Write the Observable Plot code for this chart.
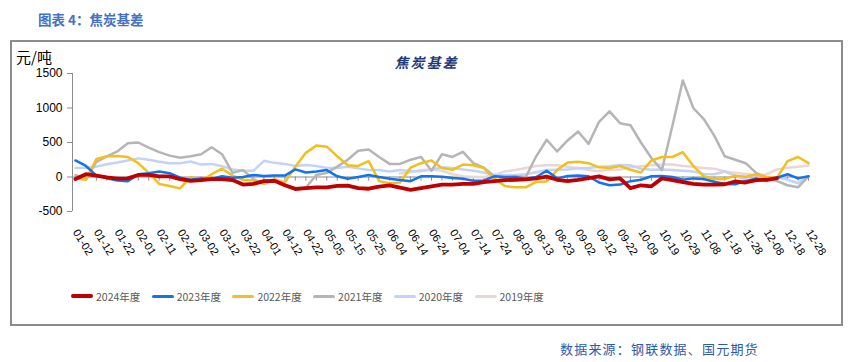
<!DOCTYPE html>
<html><head><meta charset="utf-8">
<script src="https://cdn.jsdelivr.net/npm/d3@7"></script>
<script src="https://cdn.jsdelivr.net/npm/@observablehq/plot@0.6"></script>
<style>
body{margin:0;background:#fff;width:853px;height:362px;position:relative;overflow:hidden;font-family:"Liberation Sans",Arial,sans-serif}
#hdr{position:absolute;left:38px;top:9px;font-weight:bold;font-size:13.5px;font-family:"Noto Sans CJK SC",sans-serif;color:#4472c4;white-space:nowrap}
#frame{position:absolute;left:10px;top:40px;width:829px;height:282px;border:2px solid #8c8c8c}
#unit{position:absolute;left:16px;top:46px;font-size:15px;font-family:"Noto Sans CJK SC",sans-serif;color:#000}
#title{position:absolute;left:0;width:853px;text-align:center;top:52px;font-weight:bold;font-style:italic;font-size:14px;letter-spacing:2px;font-family:"Noto Sans CJK SC",sans-serif;color:#1f3a7a}
#chart{position:absolute;left:0;top:0}
#legend{position:absolute;left:0;top:288px;width:853px;height:16px}
.item{position:absolute;top:0;height:16px;display:flex;align-items:center;font-size:10.5px;font-family:"Noto Sans CJK SC",sans-serif;color:#595959;white-space:nowrap}
.sw{width:22px;margin-right:3px;border-radius:2px}
#src{position:absolute;left:560px;top:339px;font-size:13px;letter-spacing:1.2px;font-family:"Noto Sans CJK SC",sans-serif;color:#2e5aa8;white-space:nowrap}
</style></head>
<body>
<div id="hdr">图表 4：焦炭基差</div>
<div id="frame"></div>
<div id="unit">元/吨</div>
<div id="chart"></div>
<div id="title">焦炭基差</div>
<div id="legend"></div>
<div id="src">数据来源：钢联数据、国元期货</div>
<script>
// x tick labels (one every 10 grid steps)
const xLabels = ["01-02","01-12","01-22","02-01","02-11","02-21","03-02","03-12","03-22","04-01","04-12","04-22","05-05","05-15","05-25","06-04","06-14","06-24","07-04","07-14","07-24","08-03","08-13","08-23","09-02","09-12","09-22","10-09","10-19","10-29","11-08","11-18","11-28","12-08","12-18","12-28"];
const yTicks = [-500, 0, 500, 1000, 1500];
const seriesNames = ["2024年度","2023年度","2022年度","2021年度","2020年度","2019年度"];
const seriesColors = ["#c00000","#1273ef","#f2c01e","#b5b5b5","#c3d2f5","#ead6d6"];
// values sampled every 5 grid steps (half a label interval)
const v2024 = [-30,40,20,-5,-25,-20,30,30,10,10,
  -30,-55,-45,-30,-30,-45,-110,-100,-60,-55,
  -120,-175,-160,-150,-150,-130,-125,-160,-170,-140,
  -120,-155,-185,-160,-135,-110,-110,-100,-100,-75,
  -60,-45,-40,-35,-20,5,-40,-60,-40,-15,
  10,-35,-20,-160,-120,-135,-20,-45,-75,-100,
  -110,-110,-105,-65,-80,-45,-40,-15,null,null,null];
const v2023 = [240,160,20,-20,-50,-60,40,55,80,55,
  -10,-40,-20,-30,10,-10,0,30,15,20,
  20,110,65,80,100,10,-25,0,30,0,
  -25,-45,-60,10,10,5,-15,-25,-55,-50,
  10,0,0,-25,0,90,-20,15,20,10,
  -80,-120,-110,-60,-40,10,15,0,-40,-20,
  -30,-70,-100,-105,-60,-25,-50,-10,40,-20,10];
const v2022 = [-20,-40,260,300,305,290,200,60,-100,-130,
  -165,0,-60,40,120,20,-40,-50,-100,-30,
  -80,150,350,455,440,300,170,160,230,-60,
  -90,-80,135,200,240,130,105,180,170,130,
  -20,-130,-150,-150,-70,-65,100,210,220,200,
  140,130,160,105,65,240,290,290,360,160,
  10,-30,-30,20,5,40,0,-10,230,290,200];
const v2021 = [30,-40,220,300,370,490,500,425,360,310,
  280,300,330,430,330,60,100,-30,-100,-40,
  -110,-155,-155,30,60,150,250,380,400,290,
  190,190,250,290,90,330,290,365,200,135,
  15,-15,10,0,300,540,370,530,660,480,
  800,950,780,750,500,275,100,740,1400,1000,
  840,600,300,250,200,60,-20,-60,-120,-150,10];
const v2020 = [130,135,150,185,210,240,270,250,220,200,
  200,225,180,190,155,110,90,90,235,205,
  190,160,175,160,130,130,150,125,100,100,
  80,100,85,85,105,140,130,110,90,65,
  30,25,30,40,70,100,105,110,125,130,
  150,155,175,170,120,105,110,100,90,80,
  45,40,80,20,-40,-30,-30,0,-40,-90,10];
const v2019 = [null,null,null,null,null,null,null,null,null,null,
  null,null,null,null,null,null,null,null,null,null,
  null,null,null,null,null,null,null,null,null,null,
  null,50,70,100,110,90,40,10,0,0,
  30,80,100,130,160,170,170,150,130,100,
  85,105,110,140,155,170,180,180,160,150,
  130,120,85,60,45,25,40,110,135,150,165];

const grid = v2024.map((_, k) => k * 5);
const allSeries = [v2024, v2023, v2022, v2021, v2020, v2019];
const widths = [3.8, 2.5, 2.5, 2.5, 2.5, 2.5];

const rows = s => allSeries[s].map((v, k) => ({x: grid[k], y: v})).filter(d => d.y != null);

const lineMarks = [];
for (let s = allSeries.length - 1; s >= 0; s--) {
  lineMarks.push(Plot.line(rows(s), {x: "x", y: "y", stroke: seriesColors[s], strokeWidth: widths[s], curve: "linear"}));
}

const chart = Plot.plot({
  width: 853, height: 290,
  marginLeft: 72, marginRight: 45, marginTop: 73, marginBottom: 79,
  x: {domain: [-1.4, 350], axis: null},
  y: {domain: [-500, 1500], axis: null},
  style: {background: "transparent", color: "#000", fontFamily: "'Liberation Sans', Arial, sans-serif"},
  marks: [
    Plot.ruleX([-1.4], {y1: -500, y2: 1500, stroke: "#8c8c8c", strokeWidth: 1}),
    Plot.axisY({ticks: yTicks, tickSize: 5, tickPadding: 5, stroke: "#8c8c8c", fontSize: 12, label: null, tickFormat: d => String(d)}),
    Plot.ruleY([0], {stroke: "#8c8c8c", strokeWidth: 1.2}),
    Plot.ruleX(grid, {y1: 0, y2: -60, stroke: "#8c8c8c", strokeWidth: 1}),
    ...lineMarks,
    Plot.text(xLabels, {x: (d, i) => i * 10, y: -500, text: d => d, rotate: 58, textAnchor: "start", dy: 19, fontSize: 11, fill: "#000"})
  ]
});
document.getElementById("chart").appendChild(chart);

const legend = document.getElementById("legend");
seriesNames.forEach((name, i) => {
  const it = document.createElement("div");
  it.className = "item";
  it.style.left = (71 + i * 80.7) + "px";
  const sw = document.createElement("div");
  sw.className = "sw";
  sw.style.height = (i === 0 ? 4 : 3) + "px";
  sw.style.background = seriesColors[i];
  it.appendChild(sw);
  const t = document.createElement("span");
  t.textContent = name;
  it.appendChild(t);
  legend.appendChild(it);
});
</script>
</body></html>
